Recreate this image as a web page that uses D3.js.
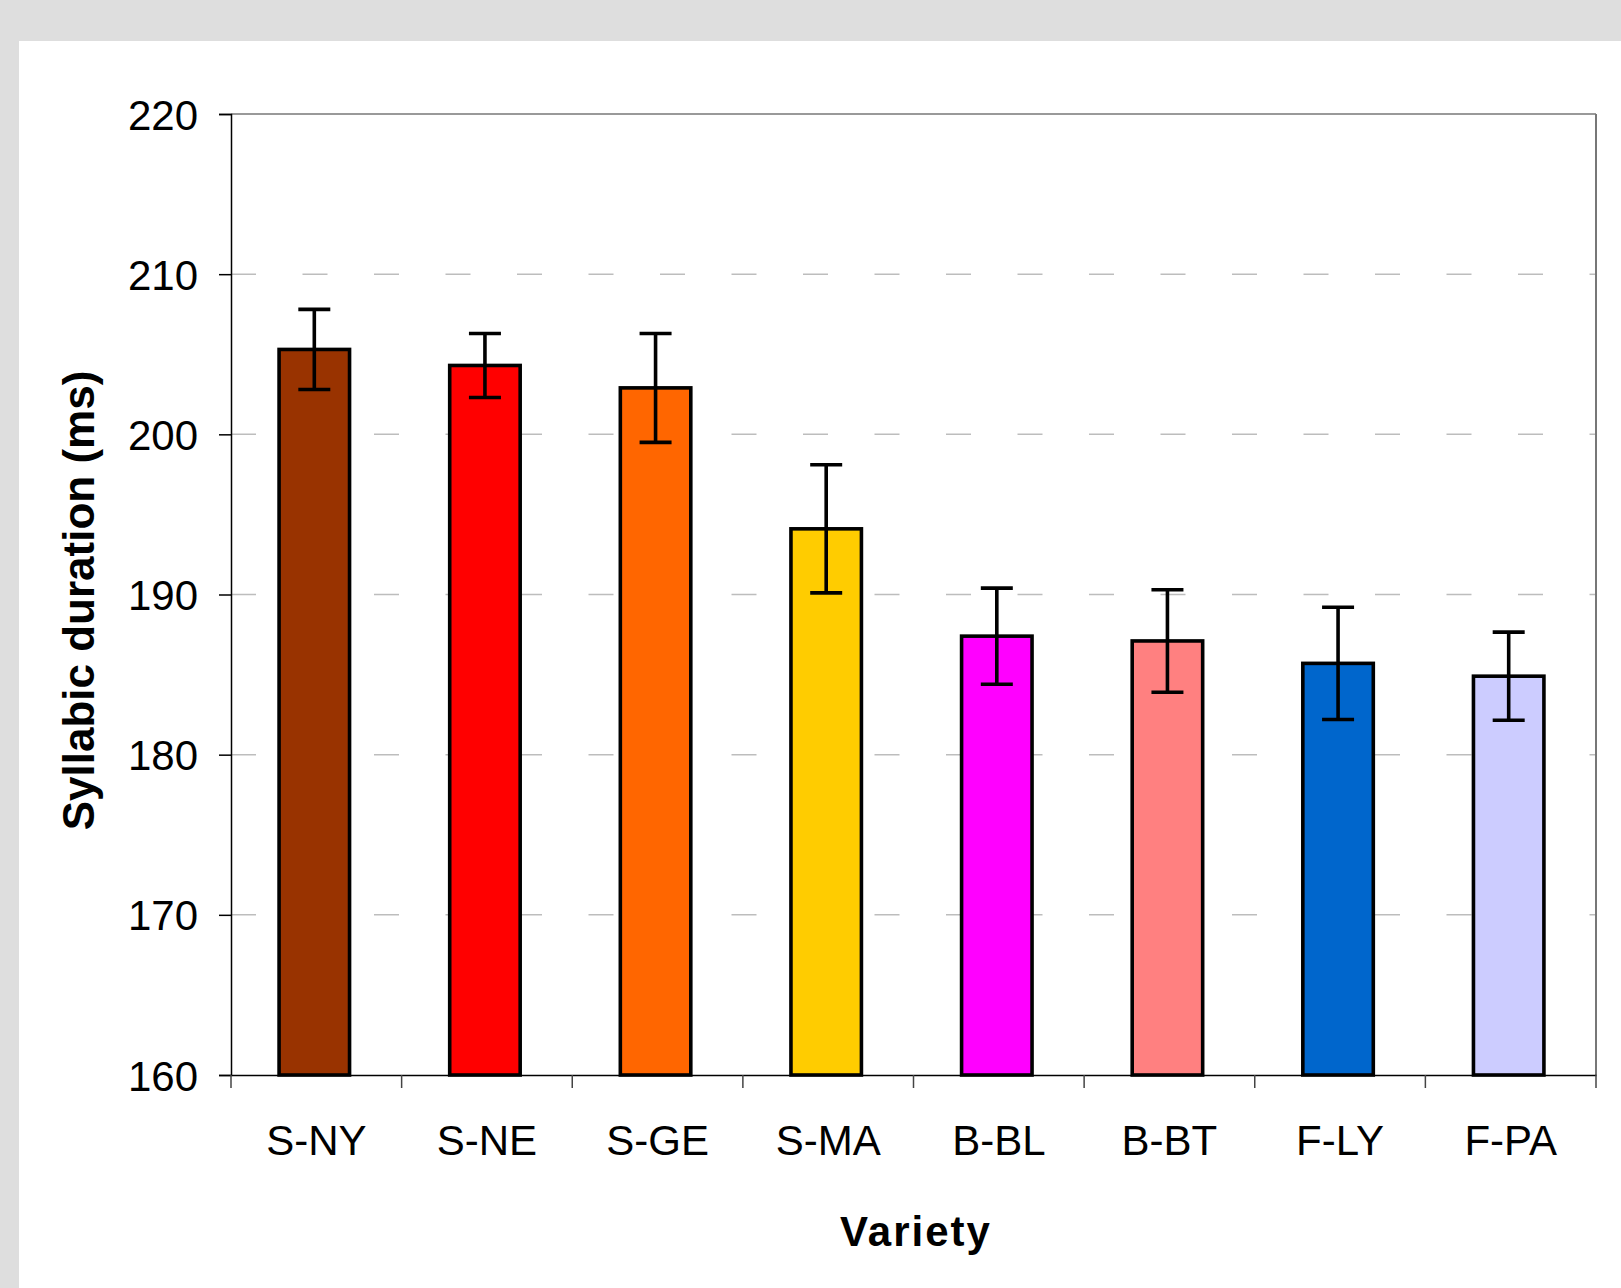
<!DOCTYPE html>
<html>
<head>
<meta charset="utf-8">
<script src="https://cdn.jsdelivr.net/npm/d3@7"></script>
<style>
  html, body { margin: 0; padding: 0; background: #dedede; }
  svg { display: block; }
</style>
</head>
<body>
<svg id="chart" width="1621" height="1288"></svg>
<script>
const categories = ["S-NY", "S-NE", "S-GE", "S-MA", "B-BL", "B-BT", "F-LY", "F-PA"];
const means = [205.3, 204.3, 202.9, 194.1, 187.4, 187.1, 185.7, 184.9];
const errors = [2.5, 2.0, 3.4, 4.0, 3.0, 3.2, 3.5, 2.75];
const colors = ["#993300", "#FF0000", "#FF6600", "#FFCC00", "#FF00FF", "#FF8080", "#0066CC", "#CCCCFF"];
const yTicks = [160, 170, 180, 190, 200, 210, 220];
const yTitle = "Syllabic duration (ms)";
const xTitle = "Variety";

(function () {
const svg = d3.select("#chart");
const W = 1621, H = 1288;
const pLeft = 231, pRight = 1596, pTop = 114, pBottom = 1075;
const font = "'Liberation Sans', Arial, Helvetica, sans-serif";

svg.append("rect").attr("x", 0).attr("y", 0).attr("width", W).attr("height", H).attr("fill", "#dedede");
svg.append("rect").attr("x", 19).attr("y", 41).attr("width", W - 19).attr("height", H - 41).attr("fill", "#ffffff");

const x = d3.scaleBand().domain(categories).range([pLeft - 2, pRight - 2]).paddingInner(0.587).paddingOuter(0.2935);
const xb = d3.scaleBand().domain(categories).range([pLeft, pRight]).padding(0);
const y = d3.scaleLinear().domain([160, 220]).range([pBottom, pTop]);

// gridlines (dashed)
svg.append("g").selectAll("line").data(yTicks.filter(t => t > 160 && t < 220)).join("line")
  .attr("x1", pLeft).attr("x2", pRight)
  .attr("y1", d => y(d)).attr("y2", d => y(d))
  .attr("stroke", "#bdbdbd").attr("stroke-width", 1.5)
  .attr("stroke-dasharray", "25,46.5");

// top & right border
svg.append("line").attr("x1", pLeft).attr("x2", pRight).attr("y1", pTop).attr("y2", pTop)
  .attr("stroke", "#777").attr("stroke-width", 1.5);
svg.append("line").attr("x1", pRight).attr("x2", pRight).attr("y1", pTop).attr("y2", pBottom)
  .attr("stroke", "#777").attr("stroke-width", 2);

// y axis
const yAxis = d3.axisLeft(y).tickValues(yTicks).tickSize(12).tickPadding(21).tickFormat(d3.format("d"));
const gy = svg.append("g").attr("transform", `translate(${pLeft},0)`).call(yAxis);
gy.select(".domain").attr("stroke", "#000").attr("stroke-width", 1.5);
gy.selectAll(".tick line").attr("stroke", "#000").attr("stroke-width", 1.5);
gy.selectAll(".tick text").attr("font-family", font).attr("font-size", 42).attr("fill", "#000").attr("dy", "0.36em");

// x axis
const xAxis = d3.axisBottom(xb).tickSize(0).tickFormat(d => d);
const gx = svg.append("g").attr("transform", `translate(0,${pBottom})`).call(xAxis);
gx.select(".domain").attr("stroke", "#000").attr("stroke-width", 1.5);
gx.selectAll(".tick text").attr("font-family", font).attr("font-size", 42).attr("fill", "#000")
  .attr("y", 80).attr("dy", 0);
// x ticks at band boundaries
const bounds = categories.map(c => xb(c)).concat([xb(categories[categories.length - 1]) + xb.bandwidth()]);
svg.append("g").selectAll("line").data(bounds).join("line")
  .attr("x1", d => d).attr("x2", d => d).attr("y1", pBottom).attr("y2", pBottom + 13)
  .attr("stroke", "#444").attr("stroke-width", 1.5);

// bars
svg.append("g").selectAll("rect").data(categories).join("rect")
  .attr("x", d => x(d)).attr("width", x.bandwidth())
  .attr("y", (d, i) => y(means[i])).attr("height", (d, i) => y(160) - y(means[i]))
  .attr("fill", (d, i) => colors[i]).attr("stroke", "#000").attr("stroke-width", 3.6);

// error bars
const eg = svg.append("g").attr("stroke", "#000").attr("stroke-width", 3.6);
categories.forEach((c, i) => {
  const cx = x(c) + x.bandwidth() / 2;
  const y1 = y(means[i] + errors[i]), y2 = y(means[i] - errors[i]);
  eg.append("line").attr("x1", cx).attr("x2", cx).attr("y1", y1).attr("y2", y2);
  eg.append("line").attr("x1", cx - 16).attr("x2", cx + 16).attr("y1", y1).attr("y2", y1);
  eg.append("line").attr("x1", cx - 16).attr("x2", cx + 16).attr("y1", y2).attr("y2", y2);
});

// axis titles
svg.append("text").attr("transform", `translate(94,${(pTop + pBottom) / 2 + 6}) rotate(-90)`)
  .attr("text-anchor", "middle").attr("font-family", font).attr("font-weight", "bold")
  .attr("font-size", 44).attr("fill", "#000").text(yTitle);
svg.append("text").attr("x", 916).attr("y", 1246)
  .attr("text-anchor", "middle").attr("font-family", font).attr("font-weight", "bold")
  .attr("font-size", 42).attr("letter-spacing", 2).attr("fill", "#000").text(xTitle);
})();
</script>
</body>
</html>
